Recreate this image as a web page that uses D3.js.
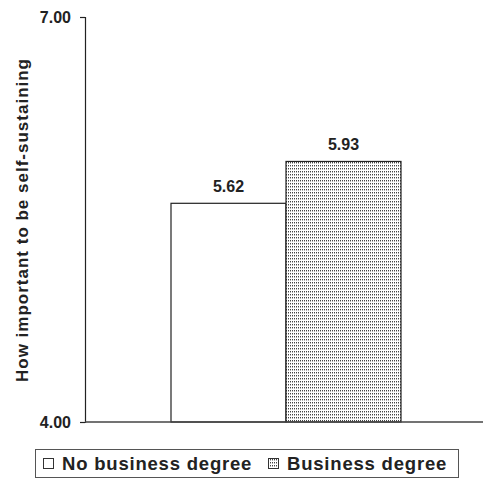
<!DOCTYPE html>
<html>
<head>
<meta charset="utf-8">
<script src="https://cdn.jsdelivr.net/npm/d3@7"></script>
<style>
  html, body { margin: 0; padding: 0; background: #fff; }
  svg { display: block; }
  text { font-family: "Liberation Sans", Arial, sans-serif; font-weight: bold; fill: #222; }
</style>
</head>
<body>
<script>
// Chart data
const seriesNames = ["No business degree", "Business degree"];
const seriesValues = [5.62, 5.93];
const yTickValues = [4.00, 7.00];
const yTitle = "How important to be self-sustaining";

const W = 483, H = 479;
const svg = d3.select("body").append("svg").attr("width", W).attr("height", H);

// Stipple pattern for the second series
const defs = svg.append("defs");
const pat = defs.append("pattern")
  .attr("id", "stipple").attr("patternUnits", "userSpaceOnUse")
  .attr("width", 2).attr("height", 3);
pat.append("rect").attr("width", 2).attr("height", 3).attr("fill", "#ffffff");
pat.append("rect").attr("x", 0).attr("y", 0).attr("width", 1).attr("height", 1).attr("fill", "#444");
pat.append("rect").attr("x", 0).attr("y", 1).attr("width", 1).attr("height", 1).attr("fill", "#b0b0b0");

const plot = { left: 85, right: 487, top: 17, bottom: 422 };

const y = d3.scaleLinear().domain([4, 7]).range([plot.bottom, plot.top]);
const x = d3.scaleBand().domain(seriesNames)
  .range([171, 401]).paddingInner(0).paddingOuter(0);

// Bars
const bars = svg.append("g");
bars.selectAll("rect").data(seriesNames).join("rect")
  .attr("x", d => x(d))
  .attr("y", (d, i) => y(seriesValues[i]))
  .attr("width", x.bandwidth())
  .attr("height", (d, i) => y(4) - y(seriesValues[i]))
  .attr("fill", (d, i) => i === 0 ? "#ffffff" : "url(#stipple)")
  .attr("stroke", "#222").attr("stroke-width", 1.2);

// Value labels
svg.append("g").selectAll("text").data(seriesNames).join("text")
  .attr("x", d => x(d) + x.bandwidth() / 2)
  .attr("y", (d, i) => y(seriesValues[i]) - 11)
  .attr("text-anchor", "middle")
  .attr("font-size", 16)
  .text((d, i) => seriesValues[i].toFixed(2));

// Y axis
const yAxis = d3.axisLeft(y).tickValues(yTickValues).tickFormat(d3.format(".2f")).tickSizeOuter(0).tickSize(5).tickPadding(9);
const gy = svg.append("g").attr("transform", `translate(${plot.left},0)`).call(yAxis);
gy.select(".domain").attr("stroke", "#222").attr("stroke-width", 1.2);
gy.selectAll(".tick line").attr("stroke", "#222").attr("stroke-width", 1.2);
gy.selectAll(".tick text").attr("font-size", 16).attr("font-weight", "bold").attr("fill", "#222")
  .attr("font-family", "Liberation Sans, Arial, sans-serif");

// Baseline across the plot
svg.append("line")
  .attr("x1", plot.left).attr("x2", plot.right)
  .attr("y1", y(4)).attr("y2", y(4))
  .attr("stroke", "#444").attr("stroke-width", 1.4);

// Y title
svg.append("text")
  .attr("transform", `translate(28,220) rotate(-90)`)
  .attr("text-anchor", "middle")
  .attr("font-size", 17)
  .attr("letter-spacing", 1.0)
  .text(yTitle);

// Legend
const lg = svg.append("g");
lg.append("rect").attr("x", 35.5).attr("y", 449.5).attr("width", 423).attr("height", 28)
  .attr("fill", "#fff").attr("stroke", "#555").attr("stroke-width", 1);
const legendX = [43, 268];
const items = lg.selectAll("g.item").data(seriesNames).join("g")
  .attr("class", "item")
  .attr("transform", (d, i) => `translate(${legendX[i]},0)`);
items.append("rect").attr("x", 0.5).attr("y", 458.5).attr("width", 10).attr("height", 10)
  .attr("fill", (d, i) => i === 0 ? "#fff" : "url(#stipple)")
  .attr("stroke", "#333").attr("stroke-width", 1);
items.append("text").attr("x", 19).attr("y", 470)
  .attr("font-size", 18.5)
  .attr("letter-spacing", 0.8)
  .text(d => d);
</script>
</body>
</html>
